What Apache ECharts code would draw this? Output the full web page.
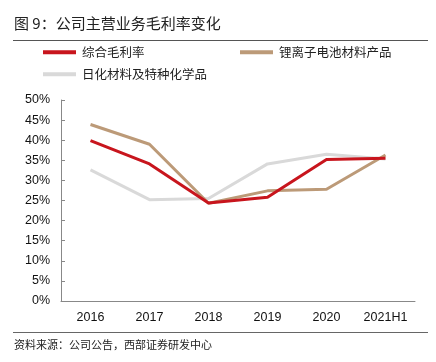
<!DOCTYPE html>
<html><head><meta charset="utf-8">
<script src="https://cdn.jsdelivr.net/npm/echarts@6/dist/echarts.min.js"></script>
<style>html,body{margin:0;padding:0;background:#fff}#c{width:436px;height:362px}</style>
</head><body><div id="c"></div>
<script>
var categories = ['2016','2017','2018','2019','2020','2021H1'];
var overall = [39.9, 34.1, 24.4, 25.8, 35.2, 35.5];
var lithium = [43.9, 39.0, 24.3, 27.4, 27.8, 36.3];
var chemical = [32.6, 25.2, 25.5, 34.1, 36.5, 35.3];
var names = ['综合毛利率','锂离子电池材料产品','日化材料及特种化学品'];
var colors = ['#C8151D','#BC9A78','#D9D9D9'];
var font = '"Noto Sans CJK SC", sans-serif';
var chart = echarts.init(document.getElementById('c'), null, {renderer:'canvas'});
function lg(name, left, top){
  return {data:[name], left:left, top:top, icon:'rect', itemWidth:33, itemHeight:4, itemGap:0,
    textStyle:{fontFamily:font, fontSize:12.5, color:'#222', padding:[0,0,0,1]}, padding:0, selectedMode:false};
}
chart.setOption({
  animation:false,
  color: colors,
  graphic:[
    {type:'text', left:14, top:16, style:{text:'图 9：公司主营业务毛利率变化', font:'15px '+font, fill:'#222'}},
    {type:'line', shape:{x1:13,y1:40.5,x2:428,y2:40.5}, style:{stroke:'#555', lineWidth:1}},
    {type:'line', shape:{x1:13,y1:332.5,x2:428,y2:332.5}, style:{stroke:'#666', lineWidth:1}},
    {type:'text', left:14, top:339, style:{text:'资料来源：公司公告，西部证券研发中心', font:'11px '+font, fill:'#222'}}
  ],
  legend:[lg(names[0],43,46), lg(names[1],240,46), lg(names[2],43,68)],
  grid:{left:61, right:21, top:100, bottom:61},
  xAxis:{type:'category', data:categories, boundaryGap:true,
    axisLine:{lineStyle:{color:'#888'}},
    axisTick:{inside:true, length:4, lineStyle:{color:'#888'}},
    axisLabel:{fontFamily:'"Liberation Sans", Arial, sans-serif', fontSize:12.5, color:'#111', margin:10}},
  yAxis:{type:'value', min:0, max:50, interval:5,
    axisLine:{show:true, lineStyle:{color:'#888'}},
    axisTick:{show:true, inside:true, length:4, lineStyle:{color:'#888'}},
    splitLine:{show:false},
    axisLabel:{formatter:'{value}%', fontFamily:'"Liberation Sans", Arial, sans-serif', fontSize:12.5, color:'#111', margin:11}},
  series:[
    {name:names[0], type:'line', data:overall, symbol:'none', lineStyle:{width:3, color:colors[0]}, z:3},
    {name:names[1], type:'line', data:lithium, symbol:'none', lineStyle:{width:3, color:colors[1]}, z:2},
    {name:names[2], type:'line', data:chemical, symbol:'none', lineStyle:{width:3, color:colors[2]}, z:1}
  ]
});
</script></body></html>
